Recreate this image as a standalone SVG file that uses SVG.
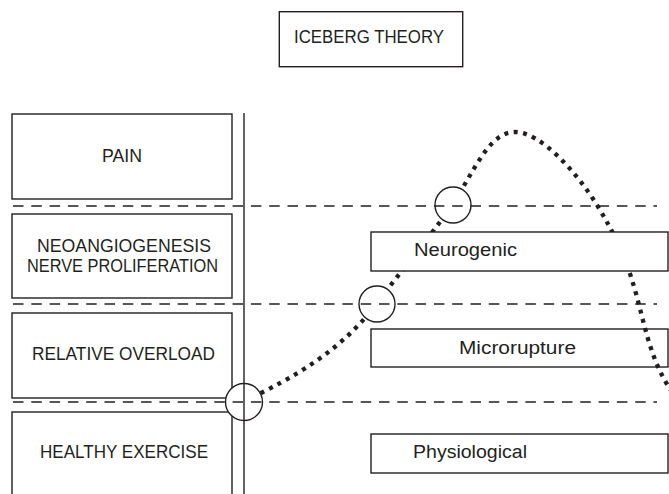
<svg xmlns="http://www.w3.org/2000/svg" width="669" height="494" viewBox="0 0 669 494">
<style>
.box{fill:#fff;stroke:#231f20;stroke-width:1.4}
.open{fill:none;stroke:#231f20;stroke-width:1.4}
.t{font-family:"Liberation Sans",Arial,sans-serif;font-size:18px;fill:#231f20}
.dash{stroke:#231f20;stroke-width:1.3;stroke-dasharray:10.5 7.8;fill:none}
.ring{fill:#fff;stroke:#231f20;stroke-width:1.4}
.curve{fill:none;stroke:#231f20;stroke-width:4.3;stroke-dasharray:4 5.5}
</style>
<rect width="669" height="494" fill="#fff"/>
<g id="title">
<rect class="box" x="279.3" y="11.7" width="183.4" height="55"/>
<text class="t" x="294" y="43" textLength="150" lengthAdjust="spacingAndGlyphs">ICEBERG THEORY</text>
</g>
<g id="pain">
<rect class="box" x="12" y="114" width="220" height="85"/>
<text class="t" x="102" y="162" textLength="40" lengthAdjust="spacingAndGlyphs">PAIN</text>
</g>
<g id="neoangiogenesis">
<rect class="box" x="12" y="214" width="220" height="84"/>
<text class="t" x="37" y="252" textLength="174" lengthAdjust="spacingAndGlyphs">NEOANGIOGENESIS</text>
<text class="t" x="27" y="272" textLength="191" lengthAdjust="spacingAndGlyphs">NERVE PROLIFERATION</text>
</g>
<g id="relative-overload">
<rect class="box" x="12" y="313" width="220" height="85"/>
<text class="t" x="32" y="360" textLength="183" lengthAdjust="spacingAndGlyphs">RELATIVE OVERLOAD</text>
</g>
<g id="healthy-exercise">
<rect class="box" x="12" y="412" width="220" height="90"/>
<text class="t" x="40" y="458" textLength="168" lengthAdjust="spacingAndGlyphs">HEALTHY EXERCISE</text>
</g>
<g id="microrupture">
<rect class="open" x="371" y="329" width="297" height="38"/>
<text class="t" x="459" y="354" textLength="117" lengthAdjust="spacingAndGlyphs">Microrupture</text>
</g>
<g id="physiological">
<rect class="box" x="371" y="434" width="297" height="39"/>
<text class="t" x="413" y="458" textLength="114" lengthAdjust="spacingAndGlyphs">Physiological</text>
</g>
<g id="connectors">
<path class="curve" d="M244,402 C275,385 335,360 377,303 C400,272 440,225 458,196 C478,162 492,132 515,132 C540,132 575,170 597,205 C615,235 625,255 635,290 C645,325 650,360 672,392"/>
</g>
<g id="markers">
<circle class="ring" cx="244" cy="402" r="18.5"/>
<circle class="ring" cx="377" cy="304" r="18"/>
<circle class="ring" cx="453" cy="205" r="18"/>
</g>
<g id="levels">
<line class="dash" x1="13" y1="206" x2="657" y2="206"/>
<line class="dash" x1="13" y1="304" x2="657" y2="304"/>
<line class="dash" x1="13" y1="402" x2="657" y2="402"/>
<line x1="244" y1="113" x2="244" y2="494" stroke="#231f20" stroke-width="1.4"/>
</g>
<g id="neurogenic">
<rect class="box" x="371" y="232" width="297" height="39"/>
<text class="t" x="414" y="256" textLength="103" lengthAdjust="spacingAndGlyphs">Neurogenic</text>
</g>
</svg>
